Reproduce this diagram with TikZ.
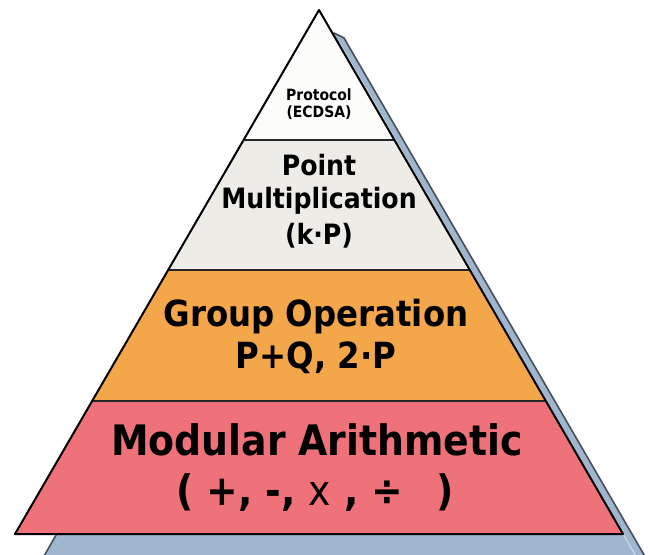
\documentclass[tikz,border=0pt]{standalone}
\usepackage{fontspec}
\newfontfamily\tah{DejaVu Sans Condensed Bold}
\newfontfamily\tahr{DejaVu Sans Condensed}
\definecolor{bandA}{RGB}{252,252,251}
\definecolor{bandB}{RGB}{238,236,231}
\definecolor{bandC}{RGB}{243,166,74}
\definecolor{bandD}{RGB}{239,113,122}
\definecolor{shadowfill}{RGB}{160,182,206}
\definecolor{shadowlite}{RGB}{205,218,232}
\definecolor{shadowline}{RGB}{70,80,92}
\begin{document}
\begin{tikzpicture}[x=1pt,y=-1pt,
  lbl/.style={text=black, inner sep=0pt, anchor=base},
  fsA/.style={font=\tah\fontsize{15.5}{15.5}\selectfont},
  fsB/.style={font=\tah\fontsize{28}{28}\selectfont},
  fsC/.style={font=\tah\fontsize{36}{36}\selectfont},
  fsD/.style={font=\tah\fontsize{42}{42}\selectfont},
  outline/.style={draw=black, line width=2pt, line join=round},
  sepline/.style={draw=black!85, line width=2pt},
  shadowshape/.style={draw=shadowline, line width=1.6pt, fill=shadowfill, line join=round}]
\useasboundingbox (0,0) rectangle (649,555);
\fill[white] (0,0) rectangle (649,555);
% shadow / side face
\coordinate (s0) at (334,33);
\coordinate (s1) at (344,38);
\coordinate (s2) at (661,584);
\coordinate (s3) at (28,584);
\coordinate (s4) at (75,502);
\path[shadowshape] (s0) -- (s1) -- (s2) -- (s3) -- (s4) -- cycle;
\coordinate (h1) at (340,44);
\coordinate (h2) at (652,584);
\draw[shadowlite, line width=1.2pt] (h1) -- (h2);
% pyramid corners
\coordinate (apex) at (319,10);
\coordinate (aL) at (243.6,140);
\coordinate (aR) at (394.4,140);
\coordinate (bL) at (168.2,270);
\coordinate (bR) at (469.8,270);
\coordinate (cL) at (92.2,401);
\coordinate (cR) at (545.8,401);
\coordinate (dL) at (15,534);
\coordinate (dR) at (623,534);
\fill[bandA] (apex) -- (aR) -- (aL) -- cycle;
\fill[bandB] (aL) -- (aR) -- (bR) -- (bL) -- cycle;
\fill[bandC] (bL) -- (bR) -- (cR) -- (cL) -- cycle;
\fill[bandD] (cL) -- (cR) -- (dR) -- (dL) -- cycle;
\draw[sepline] (aL) -- (aR);
\draw[sepline] (bL) -- (bR);
\draw[sepline] (cL) -- (cR);
\draw[outline] (apex) -- (dR) -- (dL) -- cycle;
% labels
\node[lbl, fsA] (t1) at (319,100) {Protocol};
\node[lbl, fsA] (t2) at (319,117) {(ECDSA)};
\node[lbl, fsB] (t3) at (319,175) {Point};
\node[lbl, fsB] (t4) at (319,208) {Multiplication};
\node[lbl, fsB] (t5) at (319,244) {(k·P)};
\node[lbl, fsC] (t6) at (316,326) {Group Operation};
\node[lbl, fsC] (t7) at (316,368) {P+Q, 2·P};
\node[lbl, fsD] (t8) at (317,455) {Modular Arithmetic};
\node[lbl, fsD] (t9) at (315,505) {( +, -, {\tahr x} , ÷ \ \,)};
\end{tikzpicture}
\end{document}
